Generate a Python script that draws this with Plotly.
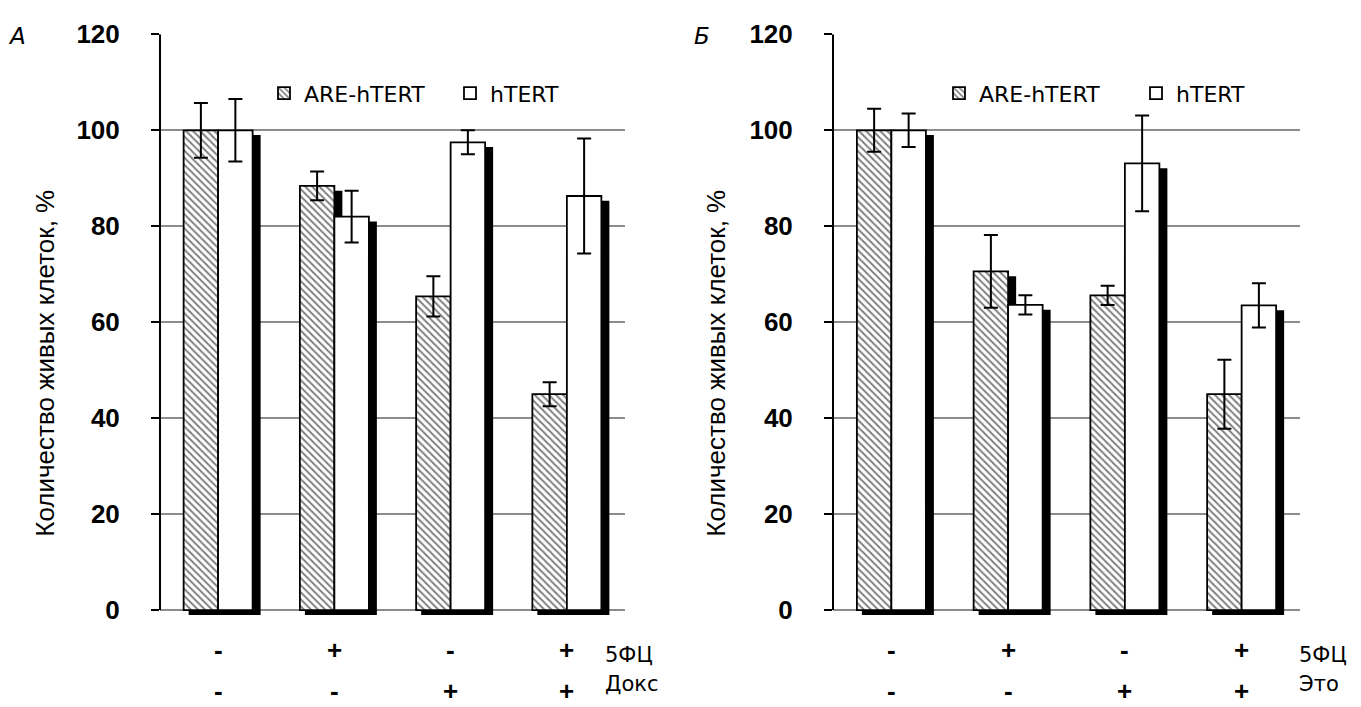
import plotly.graph_objects as go

# ---------------- data ----------------
groups = [0, 1, 2, 3]
row1_A = ['-', '+', '-', '+']
row2_A = ['-', '-', '+', '+']
row1_B = ['-', '+', '-', '+']
row2_B = ['-', '-', '+', '+']
row_names_A = ['5ФЦ', 'Докс']
row_names_B = ['5ФЦ', 'Это']
series_names = ['ARE-hTERT', 'hTERT']

are_A = [100, 88.4, 65.4, 45.0]
are_A_err = [5.7, 3.0, 4.2, 2.5]
htert_A = [100, 82.0, 97.5, 86.3]
htert_A_err = [6.5, 5.4, 2.5, 12.0]

are_B = [100, 70.6, 65.6, 45.0]
are_B_err = [4.5, 7.6, 2.0, 7.2]
htert_B = [100, 63.6, 93.1, 63.5]
htert_B_err = [3.5, 2.0, 10.0, 4.6]

y_ticks = [0, 20, 40, 60, 80, 100, 120]
panel_letters = ['А', 'Б']
y_title = 'Количество живых клеток, %'

# ---------------- layout constants ----------------
W, H = 1361, 707
Y_MIN = -1.2
Y_MAX = 120
y_top_px, y_zero_px = 20, 616
px_per_unit_y = (y_zero_px - y_top_px) / Y_MAX
y_bottom_px = y_zero_px - Y_MIN * px_per_unit_y
ydom = [(H - y_bottom_px) / H, (H - y_top_px) / H]

panels = [
    dict(x0=160, x1=625, xa='x', ya='y', legend='legend',
         are=are_A, are_err=are_A_err, ht=htert_A, ht_err=htert_A_err,
         r1=row1_A, r2=row2_A, names=row_names_A, name_x=603,
         letter_x=17, title_x=45),
    dict(x0=833, x1=1300, xa='x2', ya='y2', legend='legend2',
         are=are_B, are_err=are_B_err, ht=htert_B, ht_err=htert_B_err,
         r1=row1_B, r2=row2_B, names=row_names_B, name_x=1297,
         letter_x=702, title_x=716),
]

BAR_PX = 34.5
SH_DX_L, SH_DX_R, SH_DY = 5, 8, 5

fig = go.Figure()
annotations = []
shapes = []

for i, p in enumerate(panels):
    ppx = (p['x1'] - p['x0']) / 4.0
    w = BAR_PX / ppx
    sdl = SH_DX_L / ppx
    sdr = SH_DX_R / ppx
    sdy = SH_DY / px_per_unit_y
    # shadows
    for vals, off in [(p['are'], -w), (p['ht'], 0)]:
        fig.add_trace(go.Bar(
            x=groups, y=vals, base=[-sdy] * len(vals),
            offset=off + sdl, width=w - sdl + sdr,
            marker=dict(color='black', line=dict(width=0)),
            xaxis=p['xa'], yaxis=p['ya'], showlegend=False, hoverinfo='skip'))
    # main bars
    fig.add_trace(go.Bar(
        x=groups, y=p['are'], offset=-w, width=w, name=series_names[0],
        marker=dict(color='white',
                    pattern=dict(shape='\\', fgcolor='black', bgcolor='white',
                                 size=5, solidity=0.4, fillmode='overlay'),
                    line=dict(color='black', width=1.8)),
        error_y=dict(type='data', array=p['are_err'], color='black',
                     thickness=2, width=7),
        xaxis=p['xa'], yaxis=p['ya'], legend=p['legend']))
    fig.add_trace(go.Bar(
        x=groups, y=p['ht'], offset=0, width=w, name=series_names[1],
        marker=dict(color='white', line=dict(color='black', width=1.8)),
        error_y=dict(type='data', array=p['ht_err'], color='black',
                     thickness=2, width=7),
        xaxis=p['xa'], yaxis=p['ya'], legend=p['legend']))

    xd = [p['x0'] / W, p['x1'] / W]
    axx = 'xaxis' if i == 0 else 'xaxis2'
    axy = 'yaxis' if i == 0 else 'yaxis2'
    fig.update_layout({
        axx: dict(domain=xd, range=[-0.5, 3.5], showgrid=False, zeroline=False,
                  showticklabels=False, ticks='', showline=False,
                  anchor=p['ya'], fixedrange=True),
        axy: dict(domain=ydom, range=[Y_MIN, Y_MAX], tickvals=y_ticks,
                  showgrid=True, gridcolor='#8c8c8c', gridwidth=1.6,
                  zeroline=False, showline=False, ticks='outside',
                  ticklen=8, tickwidth=2, tickcolor='black',
                  ticklabelstandoff=26,
                  tickfont=dict(family='Liberation Sans', size=26,
                                color='black', weight='bold'),
                  anchor=p['xa'], fixedrange=True),
    })
    # axis line from 0 to 120
    shapes.append(dict(type='line', xref=f"{p['xa']} domain", yref=p['ya'],
                       x0=0, x1=0, y0=min(y_ticks), y1=max(y_ticks),
                       line=dict(color='black', width=2)))
    # row labels under groups
    for g, a, b in zip(groups, p['r1'], p['r2']):
        annotations.append(dict(x=g, y=1 - 657 / H, xref=p['xa'], yref='paper',
                                text=f'<b>{a}</b>', showarrow=False,
                                font=dict(family='Liberation Sans', size=26, color='black'),
                                xanchor='center', yanchor='middle'))
        annotations.append(dict(x=g, y=1 - 700 / H, xref=p['xa'], yref='paper',
                                text=f'<b>{b}</b>', showarrow=False,
                                font=dict(family='Liberation Sans', size=26, color='black'),
                                xanchor='center', yanchor='middle'))
    for k, nm in enumerate(p['names']):
        annotations.append(dict(x=p['name_x'] / W, y=1 - (663 + 30 * k) / H,
                                xref='paper', yref='paper', text=nm, showarrow=False,
                                font=dict(family='DejaVu Sans', size=21, color='black'),
                                xanchor='left', yanchor='middle'))
    # panel letter
    annotations.append(dict(x=p['letter_x'] / W, y=1 - 22 / H, xref='paper', yref='paper',
                            text=f'<i>{panel_letters[i]}</i>', showarrow=False,
                            font=dict(family='DejaVu Sans', size=23, color='black'),
                            xanchor='center', yanchor='middle'))
    # y title
    annotations.append(dict(x=p['title_x'] / W, y=1 - 361 / H, xref='paper', yref='paper',
                            text=y_title, textangle=-90, showarrow=False,
                            font=dict(family='Liberation Sans', size=26, color='black'),
                            xanchor='center', yanchor='middle'))

fig.update_layout(
    width=W, height=H,
    margin=dict(l=0, r=0, t=0, b=0),
    paper_bgcolor='white', plot_bgcolor='white',
    barmode='overlay',
    showlegend=True,
    legend=dict(x=264 / W, y=1 - 81 / H, xanchor='left', yanchor='middle',
                orientation='h', bgcolor='rgba(0,0,0,0)',
                font=dict(family='DejaVu Sans', size=22, color='black'),
                entrywidth=141, entrywidthmode='pixels', traceorder='normal'),
    legend2=dict(x=939 / W, y=1 - 81 / H, xanchor='left', yanchor='middle',
                 orientation='h', bgcolor='rgba(0,0,0,0)',
                 font=dict(family='DejaVu Sans', size=22, color='black'),
                 entrywidth=152, entrywidthmode='pixels', traceorder='normal'),
    annotations=annotations,
    shapes=shapes,
)

fig.write_html('out.html')
